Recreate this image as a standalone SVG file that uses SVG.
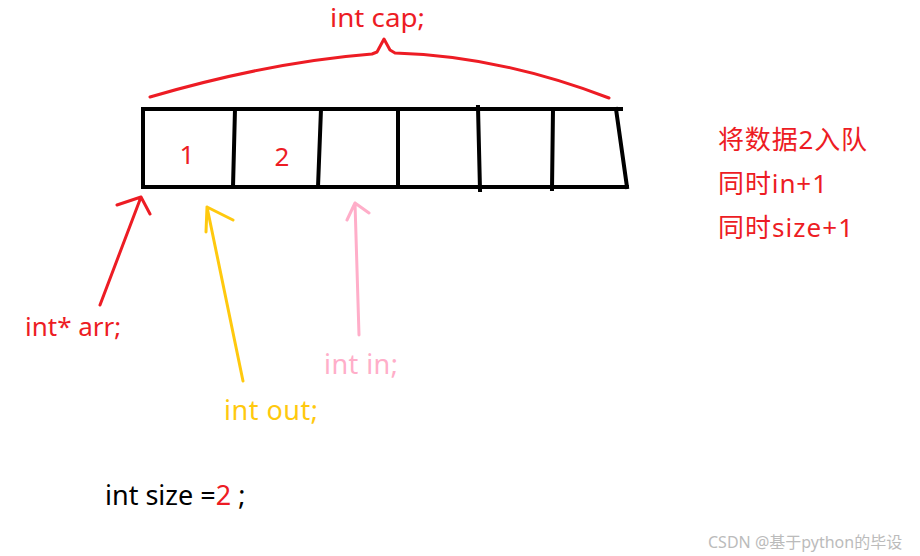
<svg xmlns="http://www.w3.org/2000/svg" width="920" height="556" viewBox="0 0 920 556">
<style>
.t{font-family:"Noto Sans","Noto Sans CJK SC",sans-serif;}
.red{fill:#ed1c24;}
.box{fill:none;stroke:#000;stroke-width:4;stroke-linecap:square;}
.ln{fill:none;stroke-width:3;stroke-linecap:round;stroke-linejoin:round;}
</style>
<rect width="920" height="556" fill="#fff"/>
<g id="array">
<path class="box" d="M143,109 L621,109 M143,187 L627,187 M143,109 L143,187 M235,109 L233,187 M321,109 L318,187 M398,109 L398,187 M478,107 L480,190 M553,109 L552,189 M616,109 L627,187"/>
<text class="t red" x="187" y="164" font-size="26" text-anchor="middle">1</text>
<text class="t red" x="282" y="166" font-size="26" text-anchor="middle">2</text>
</g>
<g id="cap-label"><text class="t red" x="330" y="27" font-size="25" textLength="95" lengthAdjust="spacingAndGlyphs">int cap;</text></g>
<g id="arr-label"><text class="t red" x="25" y="336" font-size="26">int* arr;</text></g>
<g id="in-label"><text class="t" x="324" y="374" font-size="27" textLength="74" fill="#ffaec9">int in;</text></g>
<g id="out-label"><text class="t" x="224" y="420" font-size="27" textLength="94" fill="#ffc90e">int out;</text></g>
<g id="size-label"><text class="t" x="105" y="505" font-size="27" fill="#000">int size =<tspan fill="#ed1c24">2</tspan> ;</text></g>
<g id="note">
<text class="t red" x="718" y="149" font-size="26" textLength="149">将数据2入队</text>
<text class="t red" x="718" y="193" font-size="26" textLength="109">同时in+1</text>
<text class="t red" x="718" y="237" font-size="26" textLength="135">同时size+1</text>
</g>
<g id="watermark"><text class="t" x="708" y="548" font-size="16" fill="#bbb">CSDN @基于python的毕设</text></g>
<g id="connectors">
<path class="ln" stroke="#ed1c24" d="M150,97 Q270,62 372,54 L377,52 L384,39 L390,50 L395,53 Q500,56 609,98"/>
<path class="ln" stroke="#ed1c24" d="M100,305 L141,197 M117,205 L141,197 L150,214"/>
<path class="ln" stroke="#ffc90e" d="M243,381 L207,207 M206,232 L207,207 L233,220"/>
<path class="ln" stroke="#ffaec9" d="M359,335 L355,203 M347,220 L355,203 L369,213"/>
</g>
</svg>
